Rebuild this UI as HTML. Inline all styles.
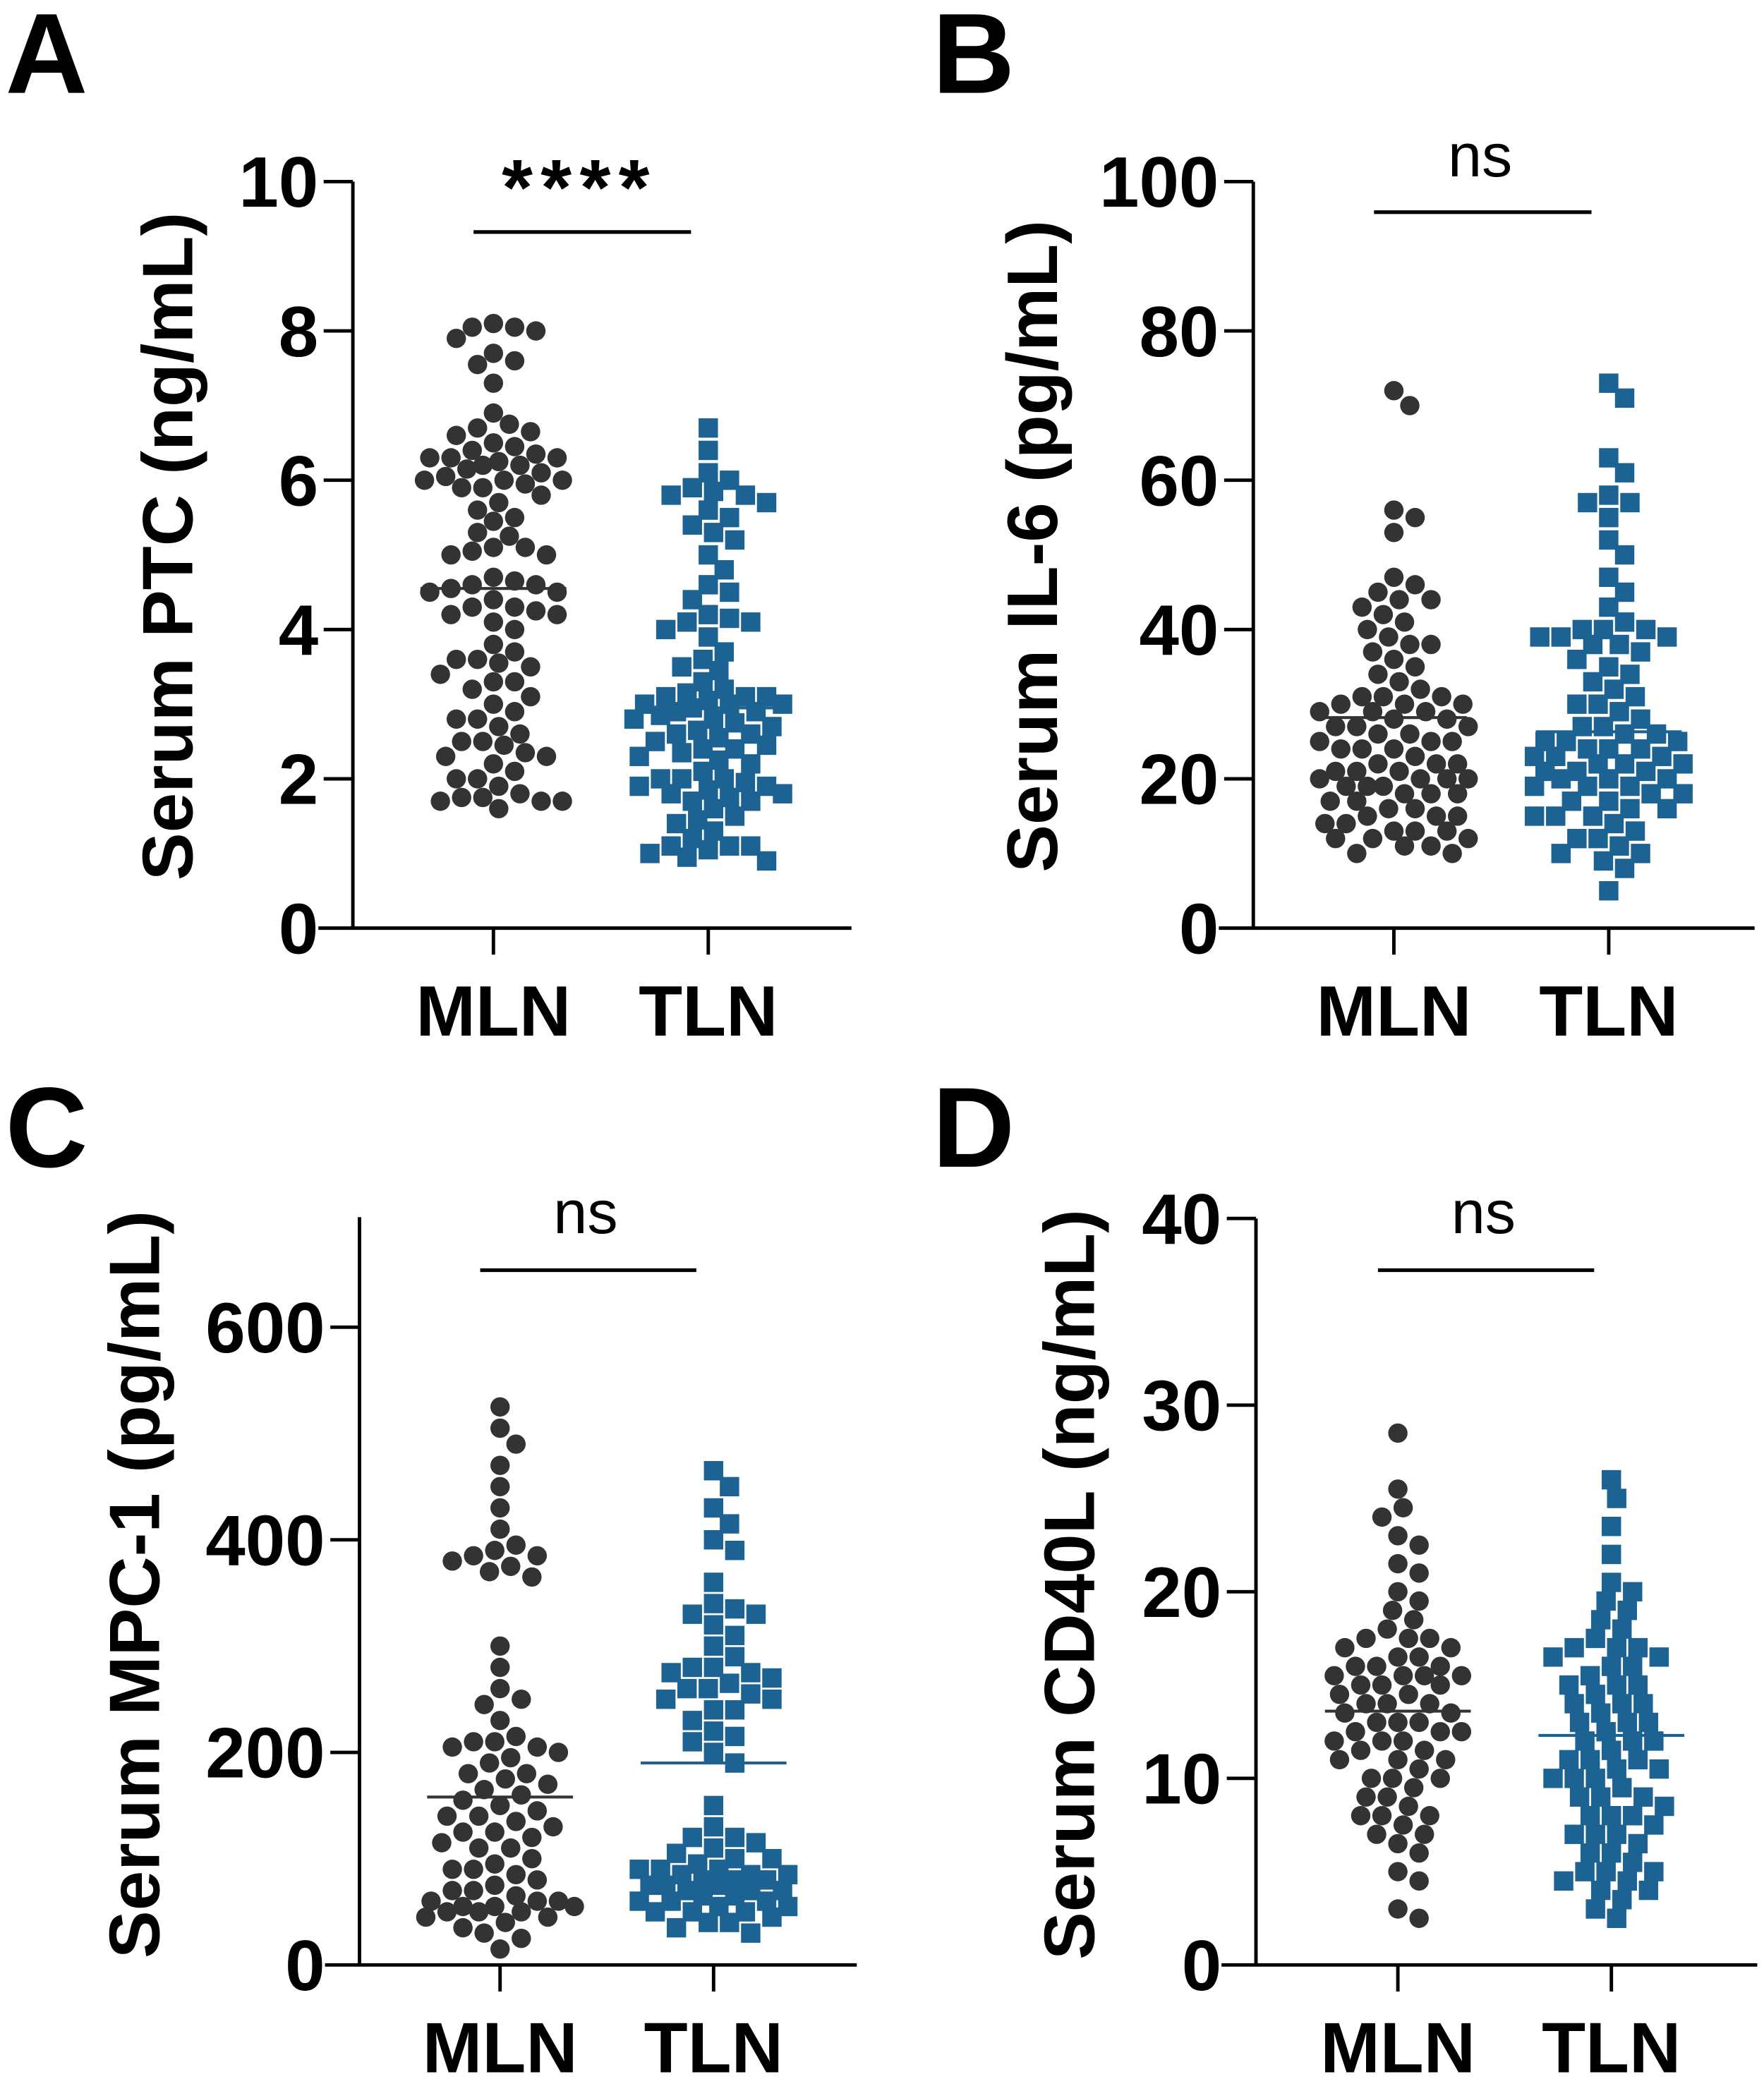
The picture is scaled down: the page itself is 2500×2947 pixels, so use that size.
<!DOCTYPE html>
<html><head><meta charset="utf-8"><style>
html,body{margin:0;padding:0;background:#fff;}
svg{display:block;font-family:"Liberation Sans",Arial,sans-serif;}
</style></head>
<body>
<svg id="fig" width="2500" height="2947" viewBox="0 0 1330 1568" xmlns="http://www.w3.org/2000/svg"></svg>
<script>
// ---- data ----
const groups = ["MLN", "TLN"];
const aMLN = [8.1,8.05,8.05,8.0,7.9,7.7,7.6,7.55,7.3,6.9,6.75,6.7,6.65,6.6,6.5,6.45,6.4,6.35,6.3,6.3,6.25,6.2,6.2,6.15,6.1,6.05,6.0,6.0,5.95,5.9,5.8,5.7,5.6,5.5,5.45,5.3,5.25,5.1,5.1,5.05,5.0,5.0,4.7,4.65,4.6,4.55,4.5,4.4,4.3,4.3,4.25,4.2,4.1,4.0,3.8,3.7,3.6,3.55,3.5,3.4,3.3,3.2,3.1,3.0,2.9,2.8,2.7,2.6,2.5,2.45,2.35,2.3,2.2,2.1,2.0,1.9,1.75,1.75,1.7,1.7,1.7,1.6,6.3,6.0,5.9,4.6,4.5,4.2,3.6,3.3,2.8,2.5,2.3,2.0,1.8];
const aTLN = [6.7,6.4,6.1,6.0,5.9,5.85,5.8,5.7,5.5,5.4,5.3,5.2,5.0,4.8,4.6,4.5,4.4,4.2,4.15,4.1,4.0,3.9,3.7,3.6,3.5,3.45,3.3,3.2,3.15,3.1,3.1,3.05,3.0,3.0,2.95,2.9,2.85,2.8,2.75,2.7,2.65,2.6,2.55,2.5,2.45,2.4,2.35,2.3,2.25,2.2,2.1,2.0,2.0,1.95,1.9,1.85,1.8,1.75,1.7,1.6,1.5,1.45,1.4,1.3,1.2,1.1,1.1,1.05,1.0,0.95,0.9,5.8,5.6,4.1,3.1,3.0,2.9,2.8,2.6,2.4,2.0,1.9,1.8,1.7,1.1];
const bMLN = [72,70,56,55,53,47,46,45,44,43,42,41,40,39,38,37,36,35,34,33,32,31,31,30,30,29,29,28,28,27,27,26,26,25,25,24,24,23,22,22,21,21,20,20,20,19,19,18,18,17,17,16,16,15,15,14,14,13,13,12,12,11,11,10,10,44,38,31,30,29,27,25,24,22,21,20,19,18,15,13,12];
const bTLN = [73,71,63,61,58,57,55,52,50,47,45,43,41,40,40,39,39,38,37,36,35,34,33,32,31,30,29,28,27,27,26,26,25,25,24,24,23,23,22,22,21,21,20,20,19,19,18,18,17,16,16,15,15,14,13,12,11,10,9,8,5,57,40,39,38,30,25,24,23,22,21,20,19,17,15,12,10];
const cMLN = [525,505,490,470,450,430,410,390,385,380,375,370,300,280,260,250,230,215,210,205,200,195,190,180,175,170,165,160,150,145,140,135,130,125,120,115,110,100,95,90,85,80,75,70,65,60,60,55,55,50,50,45,40,35,25,15,395,385,365,245,210,205,180,155,140,125,110,90,70,60,55,50,45,30];
const cTLN = [465,450,430,400,390,360,340,335,330,320,310,300,290,280,275,270,265,260,255,250,240,230,220,210,200,190,150,130,120,115,110,105,100,95,90,90,85,85,80,80,75,75,70,70,65,65,60,60,55,55,50,50,45,40,35,30,415,330,280,275,260,250,240,215,120,100,90,85,80,75,70,60,50,40];
const dMLN = [28.5,25.5,24.5,24,23,22.5,21.5,21,20,19.5,19,18.5,18,17.5,17.5,17,17,16.5,16.5,16,16,15.5,15.5,15.5,15,15,14.5,14.5,14,14,13.5,13.5,13,13,12.5,12.5,12,12,11.5,11.5,11,11,10.5,10,10,9.5,9,8.5,8,8,7.5,7,6.5,6,5,4.5,3,2.5,17.5,16,15.5,15,14,13,12.5,12,11,10,9,8,7];
const dTLN = [26,25,23.5,22,20.5,20,19.5,19,18.5,18,17.5,17,17,16.5,16,16,15.5,15,15,14.5,14,14,13.5,13,13,12.5,12,12,11.5,11,11,10.5,10,10,9.5,9,9,8.5,8,8,7.5,7,7,6.5,6,5.5,5,5,4.5,4,3.5,3,2.5,17,16.5,15,14,13,12,11,10.5,10,9,8,7,6,5,4.5,4];
const meansA = [4.55, 2.95];
const meansB = [28.2, 26.3];
const meansC = [158, 190];
const meansD = [13.6, 12.3];
const ticksA = [0,2,4,6,8,10];
const ticksB = [0,20,40,60,80,100];
const ticksC = [0,200,400,600];
const ticksD = [0,10,20,30,40];

const NS = "http://www.w3.org/2000/svg";
const svg = document.getElementById("fig");
function mk(tag, attrs, parent) {
  const e = document.createElementNS(NS, tag);
  for (const k in attrs) e.setAttribute(k, attrs[k]);
  (parent || svg).appendChild(e);
  return e;
}
const DARK = "#333333", BLUE = "#1c6293";

function panel(cfg) {
  const g = mk("g", {});
  
  
  const y = v => cfg.y0 - (v - 0) / cfg.max * (cfg.y0 - cfg.yTop);
  const xs = [cfg.xM, cfg.xT];
  const L = mk("text", {x: cfg.lx, y: cfg.ly, "font-size": 86, "font-weight": "bold", fill: "#000"}, g);
  L.textContent = cfg.letter;
  
  
  const ya = mk("line", {x1: cfg.ax, x2: cfg.ax, y1: cfg.axTop, y2: cfg.y0 + 1, stroke: "#000", "stroke-width": 2.6}, g);
  
  
  const xa = mk("line", {x1: cfg.ax - 26, x2: cfg.xEnd, y1: cfg.y0, y2: cfg.y0, stroke: "#000", "stroke-width": 2.6}, g);
  
  
  cfg.ticks.forEach(t => {
    const ty = y(t);
    if (t !== 0) {
      const tl = mk("line", {x1: cfg.ax - 22, x2: cfg.ax, y1: ty, y2: ty, stroke: "#000", "stroke-width": 2.6}, g);
      
      
    }
    const tt = mk("text", {x: cfg.ax - 26, y: ty + 19, "font-size": 54, "font-weight": "bold", "text-anchor": "end"}, g);
    tt.textContent = t;
    
    
  });
  groups.forEach((name, i) => {
    const tl = mk("line", {x1: xs[i], x2: xs[i], y1: cfg.y0, y2: cfg.y0 + 20, stroke: "#000", "stroke-width": 2.6}, g);
    
    
    const lt = mk("text", {x: xs[i], y: cfg.y0 + 81, "font-size": 54, "font-weight": "bold", "text-anchor": "middle"}, g);
    lt.textContent = name;
    
    
  });
  const yt = mk("text", {x: 0, y: 0, "font-size": 54, "font-weight": "bold", "text-anchor": "middle", transform: `translate(${cfg.tx},${cfg.ty}) rotate(-90)`}, g);
  yt.textContent = cfg.title;
  
  
  const sb = mk("line", {x1: xs[0] - 15, x2: xs[1] - 13, y1: cfg.barY, y2: cfg.barY, stroke: "#000", "stroke-width": 2.8}, g);
  
  
  const isNs = cfg.sig === "ns";
  const st = mk("text", {x: (xs[0] + xs[1]) / 2 - 16, y: cfg.sigY, "font-size": isNs ? 46 : 60, "font-weight": isNs ? "normal" : "bold", "text-anchor": "middle", "letter-spacing": isNs ? 0 : 6}, g);
  st.textContent = cfg.sig;
  
  
  [cfg.m, cfg.t].forEach((vals, gi) => {
    const cx = xs[gi];
    const placed = [];
    const sorted = vals.slice().sort((a, b) => b - a);
    const D = 14.5, MAXOFF = 56;
    sorted.forEach(v => {
      const py = y(v);
      let off = null, bestD = -1, bestOff = 0;
      for (let k = 0; k < 80; k++) {
        const cand = k === 0 ? 0 : (k % 2 ? 1 : -1) * Math.ceil(k / 2) * 4;
        if (Math.abs(cand) > MAXOFF) break;
        let md = Infinity;
        placed.forEach(p => { md = Math.min(md, Math.hypot(p[0] - (cx + cand), p[1] - py)); });
        if (md >= D) { off = cand; break; }
        if (md > bestD) { bestD = md; bestOff = cand; }
      }
      if (off === null) off = bestOff;
      placed.push([cx + off, py]);
      let m;
      if (gi === 0) {
        m = mk("circle", {cx: cx + off, cy: py, r: 7.3, fill: DARK}, g);
      } else {
        m = mk("rect", {x: cx + off - 7.3, y: py - 7.3, width: 14.6, height: 14.6, fill: BLUE}, g);
      }
      
      
    });
  });
  cfg.means.forEach((mv, i) => {
    const ml = mk("line", {x1: xs[i] - 55, x2: xs[i] + 55, y1: y(mv), y2: y(mv), stroke: i ? BLUE : DARK, "stroke-width": 2.2}, g);
    
    
  });
}

panel({letter: "A", lx: 4, ly: 70, ax: 266, axTop: 137, y0: 700, yTop: 137, max: 10, xEnd: 642, xM: 372, xT: 534,
  ticks: ticksA, title: "Serum PTC (ng/mL)", tx: 145, ty: 412, barY: 175, sigY: 162, sig: "****",
  m: aMLN, t: aTLN, means: meansA});
panel({letter: "B", lx: 703, ly: 70, ax: 945, axTop: 137, y0: 700, yTop: 137, max: 100, xEnd: 1323, xM: 1051, xT: 1213,
  ticks: ticksB, title: "Serum IL-6 (pg/mL)", tx: 797, ty: 412, barY: 160, sigY: 133, sig: "ns",
  m: bMLN, t: bTLN, means: meansB});
panel({letter: "C", lx: 4, ly: 880, ax: 271, axTop: 918, y0: 1482, yTop: 1001, max: 600, xEnd: 646, xM: 377, xT: 538,
  ticks: ticksC, title: "Serum MPC-1 (pg/mL)", tx: 120, ty: 1195, barY: 958, sigY: 930, sig: "ns",
  m: cMLN, t: cTLN, means: meansC});
panel({letter: "D", lx: 703, ly: 880, ax: 947, axTop: 919, y0: 1482, yTop: 919, max: 40, xEnd: 1325, xM: 1054, xT: 1215,
  ticks: ticksD, title: "Serum CD40L (ng/mL)", tx: 825, ty: 1195, barY: 958, sigY: 930, sig: "ns",
  m: dMLN, t: dTLN, means: meansD});
</script>
</body></html>
